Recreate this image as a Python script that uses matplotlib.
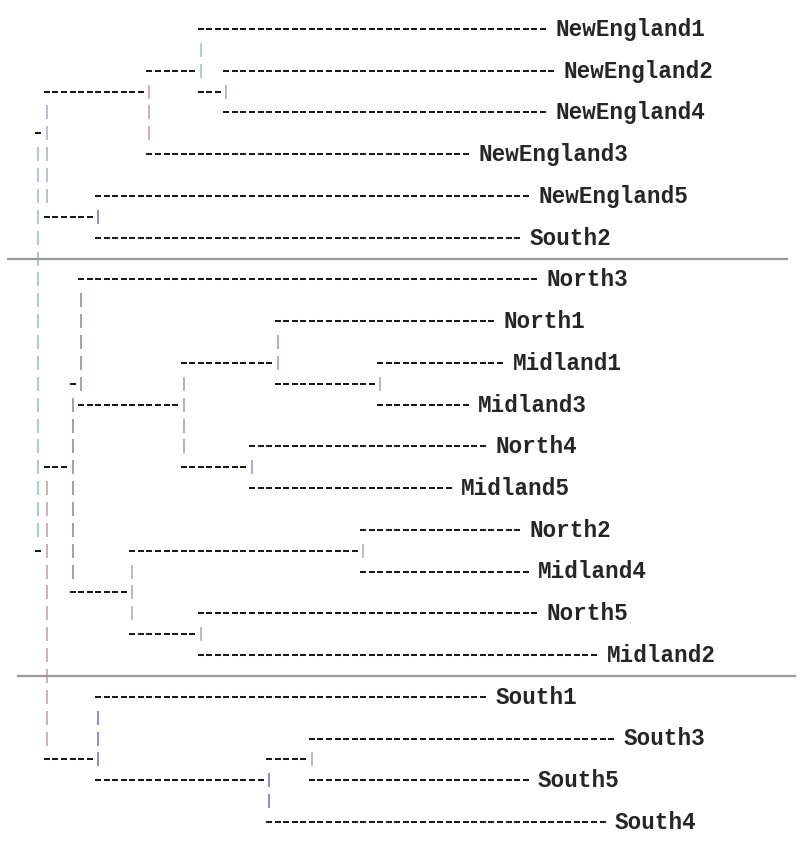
# Arvore em texto (estilo ASCII) - grupos NewEngland / North-Midland / South
import matplotlib.pyplot as plt

# linhas da arvore: '-' = ramo horizontal, letra = barra vertical '|' (a letra e a cor)
linhas = [
    "                   -----------------------------------------",
    "                   g",
    "             ------g  ---------------------------------------",
    " ------------p     ---r",
    " b           p        --------------------------------------",
    "-b           p",
    "ab           --------------------------------------",
    "ab",
    "ab     ---------------------------------------------------",
    "a------v",
    "a      --------------------------------------------------",
    "a",
    "a    ------------------------------------------------------",
    "a    m",
    "a    m                      --------------------------",
    "a    m                      s",
    "a    m           -----------s           ---------------",
    "a   -m           s          ------------n",
    "a   u------------s                      -----------",
    "a   u            s",
    "a   u            s       ----------------------------",
    "a---u            --------s",
    "ar  u                    ------------------------",
    "ar  u",
    "ar  u                                 -------------------",
    "-r  u      ---------------------------n",
    " r  u      n                          --------------------",
    " r  -------n",
    " r         n       ----------------------------------------",
    " r         --------n",
    " r                 -----------------------------------------------",
    " r",
    " r     ----------------------------------------------",
    " r     v",
    " r     v                        ------------------------------------",
    " ------v                   -----r",
    "       --------------------v    --------------------------",
    "                           v",
    "                           ----------------------------------------",
]

# folhas, de cima para baixo (uma a cada duas linhas)
folhas = ['NewEngland1', 'NewEngland2', 'NewEngland4', 'NewEngland3', 'NewEngland5', 'South2',
          'North3', 'North1', 'Midland1', 'Midland3', 'North4', 'Midland5',
          'North2', 'Midland4', 'North5', 'Midland2',
          'South1', 'South3', 'South5', 'South4']
# separadores depois destas folhas
separadores = ['South2', 'Midland2']

cores_barra = {'a': '#a7c3dc', 'b': '#b3bcc9', 'p': '#d8a1ac', 'g': '#a6cfc4', 'r': '#c6adb3',
               'v': '#8a7fc9', 'm': '#a892b3', 'u': '#9a92b8', 's': '#a3abc6', 'n': '#b3bab6'}

fig = plt.figure(figsize=(8, 8.41), dpi=100)
ax = fig.add_axes([0, 0, 1, 1])
ax.set_xlim(-4.48, 89.09)
ax.set_ylim(38.91, -1.39)
ax.axis('off')

for lin, txt in enumerate(linhas):
    xs_traco = [c for c, ch in enumerate(txt) if ch == '-']
    ax.plot(xs_traco, [lin] * len(xs_traco), linestyle='', marker='_', markersize=4.2,
            markeredgewidth=1.45, color='#1a1a1a')
    for c, ch in enumerate(txt):
        if ch in cores_barra:
            ax.plot(c, lin, linestyle='', marker='|', markersize=10, markeredgewidth=1.3,
                    color=cores_barra[ch])

# rotulos das folhas
for i, nome in enumerate(folhas):
    lin = 2 * i
    fim = len(linhas[lin].rstrip()) - 1
    ax.text(fim + 1.45, lin + 0.33, nome, family='Liberation Mono', fontsize=16.3,
            fontweight='bold', color='#262626', ha='left', va='baseline')

# linhas cinzas entre os grupos
ax.axhline(2 * folhas.index(separadores[0]) + 1, xmin=0.010, xmax=0.984, color='#9a9a9a', lw=1.6)
ax.axhline(2 * folhas.index(separadores[1]) + 1, xmin=0.022, xmax=0.994, color='#9a9a9a', lw=1.6)

plt.savefig('out.png', dpi=100)
